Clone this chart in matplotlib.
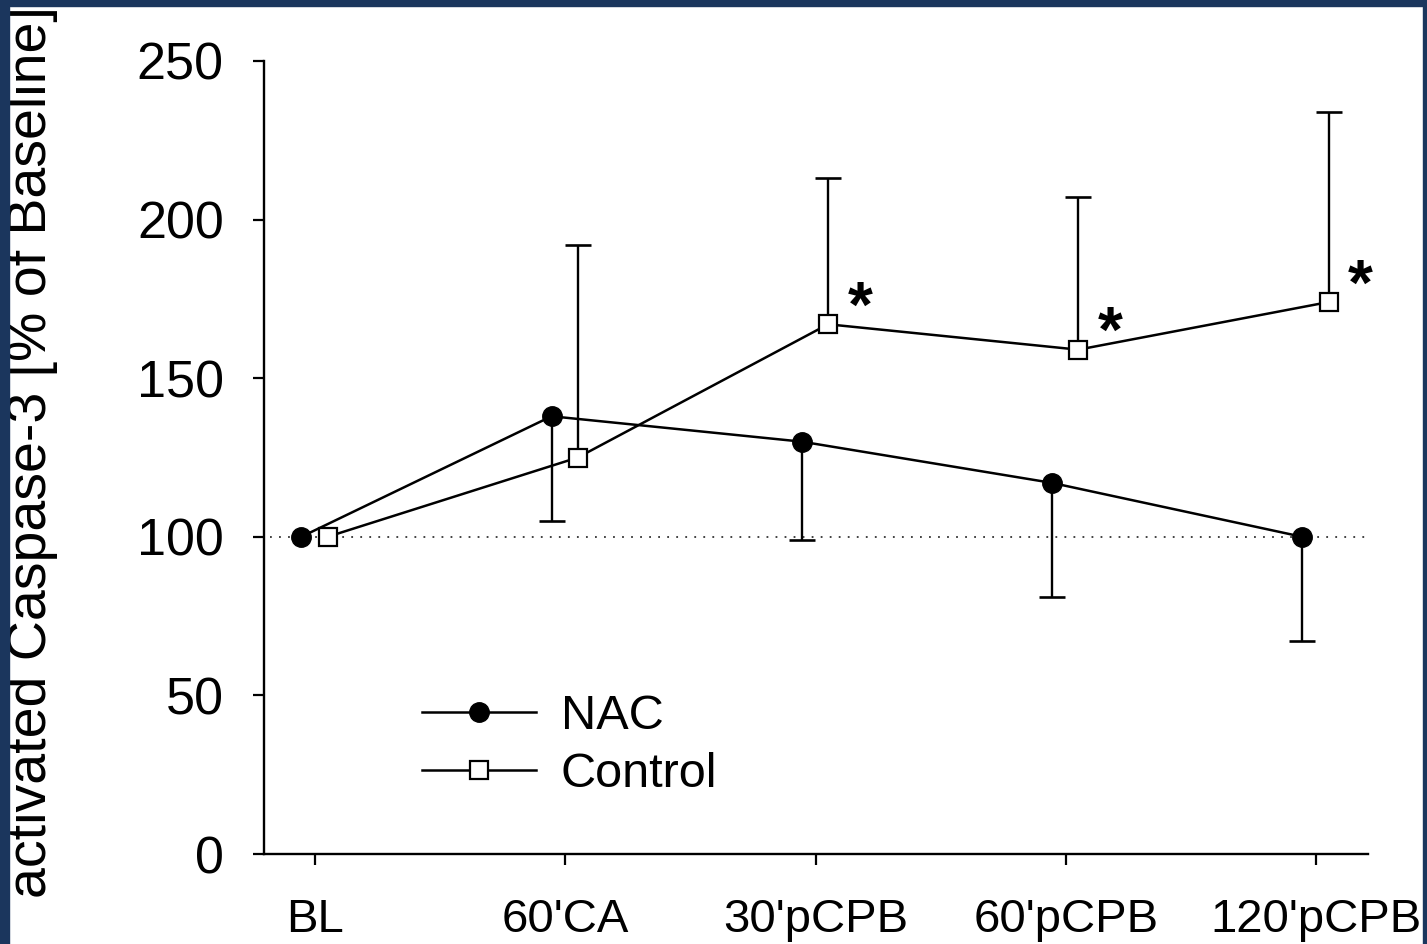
import numpy as np
import matplotlib
matplotlib.use('Agg')
import matplotlib.pyplot as plt
from matplotlib.patches import Rectangle

plt.rcParams['font.family'] = ['Liberation Sans', 'DejaVu Sans']

# Zeitpunkte und Mittelwerte (% of Baseline)
timepoints = ['BL', "60'CA", "30'pCPB", "60'pCPB", "120'pCPB"]
nac_mean = [100, 138, 130, 117, 100]
nac_sd_low = [0, 33, 31, 36, 33]
control_mean = [100, 125, 167, 159, 174]
control_sd_up = [0, 67, 46, 48, 60]
control_signif = [False, False, True, True, True]

x = np.arange(len(timepoints))
x_nac = x - 0.055
x_ctrl = x + 0.05
nac_mean = np.array(nac_mean)
control_mean = np.array(control_mean)

fig = plt.figure(figsize=(14.27, 9.44), dpi=100)
ax = fig.add_axes([0.185, 0.0953, 0.7737, 0.8401])

# ligne de base à 100 %
ax.hlines(100, -0.18, 4.2, colors='#333333', linestyles=(0, (1, 4)), lw=1.3, zorder=1)

# barres d'erreur : vers le bas pour NAC, vers le haut pour Control
has_nac = np.array(nac_sd_low) > 0
ax.vlines(x_nac[has_nac], nac_mean[has_nac], nac_mean[has_nac] - np.array(nac_sd_low)[has_nac],
          colors='black', lw=1.7, zorder=2)
ax.plot(x_nac[has_nac], nac_mean[has_nac] - np.array(nac_sd_low)[has_nac], ls='none',
        marker='_', markersize=19, markeredgewidth=1.9, color='black', zorder=2)
has_ctrl = np.array(control_sd_up) > 0
ax.vlines(x_ctrl[has_ctrl], control_mean[has_ctrl], control_mean[has_ctrl] + np.array(control_sd_up)[has_ctrl],
          colors='black', lw=1.7, zorder=2)
ax.plot(x_ctrl[has_ctrl], control_mean[has_ctrl] + np.array(control_sd_up)[has_ctrl], ls='none',
        marker='_', markersize=19, markeredgewidth=1.9, color='black', zorder=2)

ax.plot(x_nac, nac_mean, color='black', lw=1.8, marker='o', markersize=14,
        markerfacecolor='black', markeredgecolor='black', label='NAC', zorder=4)
ax.plot(x_ctrl, control_mean, color='black', lw=1.8, marker='s', markersize=13,
        markerfacecolor='white', markeredgecolor='black', markeredgewidth=1.6,
        label='Control', zorder=3)

# Signifikanz-Sterne
for xi, yi, s in zip(x_ctrl, control_mean, control_signif):
    if s:
        ax.annotate('*', (xi, yi), xytext=(23, -11), textcoords='offset points',
                    ha='center', va='bottom', fontsize=46, fontweight='bold')

ax.set_xlim(-0.204, 4.208)
ax.set_ylim(0, 250)
ax.set_yticks([0, 50, 100, 150, 200, 250])
ax.set_xticks(x)
ax.set_xticklabels(timepoints)
ax.tick_params(axis='y', direction='out', length=8, width=1.6, labelsize=37.5, pad=21)
ax.tick_params(axis='x', direction='out', length=8, width=1.6, labelsize=34, pad=24)

for side in ['top', 'right']:
    ax.spines[side].set_visible(False)
for side in ['left', 'bottom']:
    ax.spines[side].set_linewidth(1.7)

leg = ax.legend(loc='upper left', bbox_to_anchor=(422 / 1427, 1 - 694 / 944),
                bbox_transform=fig.transFigure, frameon=False, fontsize=35,
                handlelength=2.35, handletextpad=0.5, labelspacing=0.26,
                borderpad=0, borderaxespad=0, numpoints=1)

fig.text(32 / 1427, 1 - 898 / 944, 'activated Caspase-3 [% of Baseline]',
         rotation=90, ha='center', va='bottom', fontsize=40)

# dunkelblauer Rahmen
navy = '#1b365d'
fig.patches.append(Rectangle((0, 0), 9 / 1427, 1, transform=fig.transFigure, color=navy, zorder=10))
fig.patches.append(Rectangle((0, 1 - 6 / 944), 1, 6 / 944, transform=fig.transFigure, color=navy, zorder=10))
fig.patches.append(Rectangle((1 - 4 / 1427, 0), 4 / 1427, 1, transform=fig.transFigure, color=navy, zorder=10))

fig.savefig('out.png', dpi=100, facecolor='white')
